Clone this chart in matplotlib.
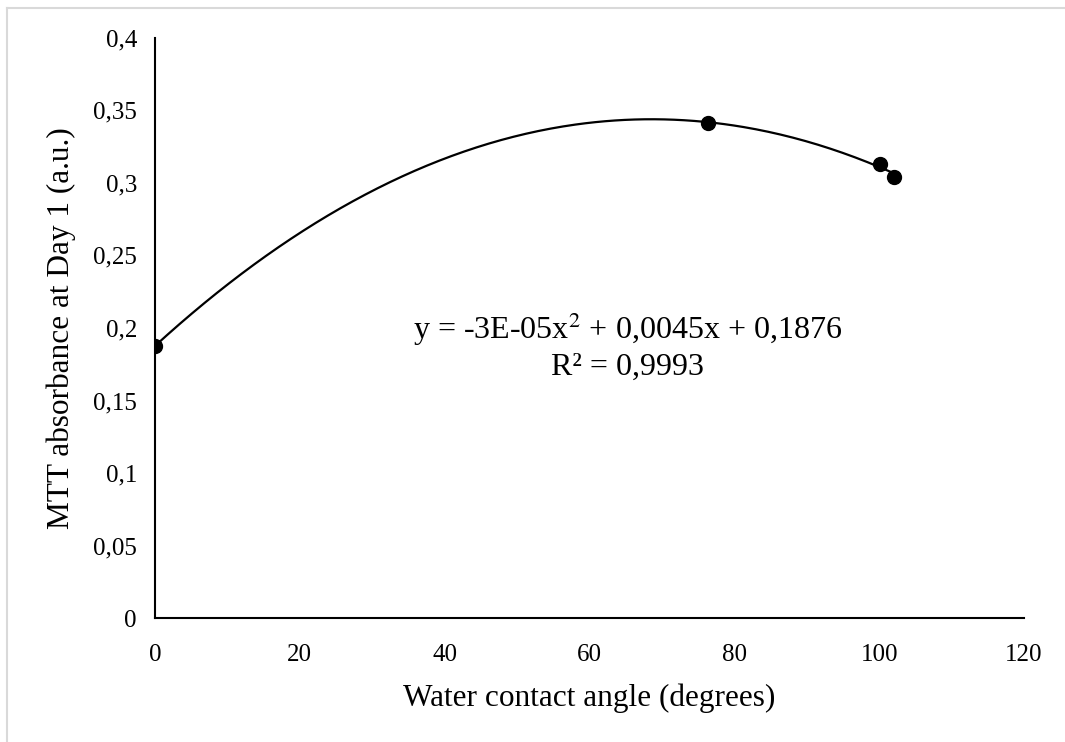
import numpy as np
import matplotlib.pyplot as plt
from matplotlib.lines import Line2D

plt.rcParams['font.family'] = ['Liberation Serif', 'DejaVu Serif']

# data
contact_angle = [0.0, 76.4, 100.1, 102.1]
mtt_day1 = [0.1876, 0.3416, 0.3131, 0.3044]
x_ticks = [0, 20, 40, 60, 80, 100, 120]
y_ticks = [0, 0.05, 0.1, 0.15, 0.2, 0.25, 0.3, 0.35, 0.4]
y_tick_labels = ['0', '0,05', '0,1', '0,15', '0,2', '0,25', '0,3', '0,35', '0,4']

fig = plt.figure(figsize=(10.65, 7.42), dpi=100)
ax = fig.add_axes([0.1455, 0.167, 0.816, 0.782])

# quadratic trendline fitted to the points (as in Excel)
coef = np.polyfit(contact_angle, mtt_day1, 2)
xs = np.linspace(min(contact_angle), max(contact_angle), 300)
ax.plot(xs, np.polyval(coef, xs), color='black', lw=1.6, zorder=2)
ax.plot(contact_angle, mtt_day1, 'o', color='black', ms=10, zorder=3)

ax.set_xlim(0, 120)
ax.set_ylim(0, 0.4)
ax.set_xticks(x_ticks)
ax.set_yticks(y_ticks)
ax.set_yticklabels(y_tick_labels)
ax.tick_params(length=0, labelsize=18)
ax.tick_params(axis='y', pad=13)
ax.tick_params(axis='x', pad=19)
for s in ['top', 'right']:
    ax.spines[s].set_visible(False)
for s in ['left', 'bottom']:
    ax.spines[s].set_linewidth(1.5)

ax.set_xlabel('Water contact angle (degrees)', fontsize=22.5, labelpad=12)
ax.set_ylabel('MTT absorbance at Day 1 (a.u.)', fontsize=22.5, labelpad=12)

ax.text(65.3, 0.1876, 'y = -3E-05x$^2$ + 0,0045x + 0,1876\nR² = 0,9993',
        ha='center', va='center', fontsize=23, linespacing=1.2,
        math_fontfamily='stix')

# faint chart-area border (top and left edges visible)
fig.add_artist(Line2D([7 / 1065, 1], [1 - 8 / 742, 1 - 8 / 742],
                      color='#d9d9d9', lw=1.5, transform=fig.transFigure))
fig.add_artist(Line2D([7 / 1065, 7 / 1065], [0, 1 - 8 / 742],
                      color='#d9d9d9', lw=1.5, transform=fig.transFigure))

fig.savefig('out.png', dpi=100)
